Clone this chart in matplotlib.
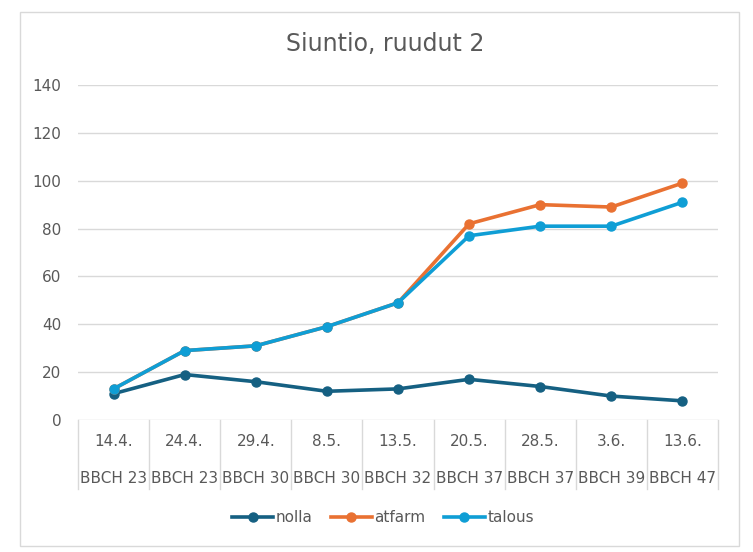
import matplotlib.pyplot as plt
from matplotlib.patches import Rectangle
import matplotlib.transforms as mtransforms

plt.rcParams['font.family'] = ['DejaVu Sans']

dates = ['14.4.', '24.4.', '29.4.', '8.5.', '13.5.', '20.5.', '28.5.', '3.6.', '13.6.']
stages = ['BBCH 23', 'BBCH 23', 'BBCH 30', 'BBCH 30', 'BBCH 32',
          'BBCH 37', 'BBCH 37', 'BBCH 39', 'BBCH 47']
nolla = [11, 19, 16, 12, 13, 17, 14, 10, 8]
atfarm = [13, 29, 31, 39, 49, 82, 90, 89, 99]
talous = [13, 29, 31, 39, 49, 77, 81, 81, 91]

text_col = '#595959'
grid_col = '#D9D9D9'

W, H = 753, 552
fig = plt.figure(figsize=(W / 100, H / 100), dpi=100)

# outer chart border
fig.patches.append(Rectangle((20 / W, 1 - 546 / H), 719 / W, 534 / H,
                             transform=fig.transFigure, fill=False,
                             edgecolor=grid_col, linewidth=1))

ax = fig.add_axes([78 / W, 1 - 420 / H, 640 / W, 335 / H])
x = list(range(len(dates)))

ax.plot(x, nolla, color='#156082', lw=2.6, marker='o', ms=6.5, label='nolla', zorder=3)
ax.plot(x, atfarm, color='#E97132', lw=2.6, marker='o', ms=6.5, label='atfarm', zorder=3)
ax.plot(x, talous, color='#0F9ED5', lw=2.6, marker='o', ms=6.5, label='talous', zorder=4)

ax.set_xlim(-0.5, len(dates) - 0.5)
ax.set_ylim(0, 140)
ax.set_yticks(range(0, 141, 20))
ax.yaxis.grid(True, color=grid_col, lw=1)
ax.set_axisbelow(True)
for s in ax.spines.values():
    s.set_visible(False)
ax.tick_params(axis='y', length=0, pad=12, labelsize=11, labelcolor=text_col)
ax.set_xticks([])

# multi-level category axis
trans = mtransforms.blended_transform_factory(ax.transData, ax.transAxes)
for b in [i - 0.5 for i in range(len(dates) + 1)]:
    ax.plot([b, b], [0, -0.206], transform=trans, color=grid_col, lw=1, clip_on=False)
for i in x:
    ax.text(i, -0.063, dates[i], transform=trans, ha='center', va='center',
            fontsize=11, color=text_col)
    ax.text(i, -0.176, stages[i], transform=trans, ha='center', va='center',
            fontsize=11, color=text_col)

fig.text(385 / W, 1 - 44 / H, 'Siuntio, ruudut 2', ha='center', va='center',
         fontsize=17, color=text_col)

fig.legend(loc='center', bbox_to_anchor=(383 / W, 1 - 518 / H), ncol=3, frameon=False,
           fontsize=11, labelcolor=text_col, handlelength=2.7, handletextpad=0.15,
           columnspacing=1.2)

fig.savefig('out.png', dpi=100)
